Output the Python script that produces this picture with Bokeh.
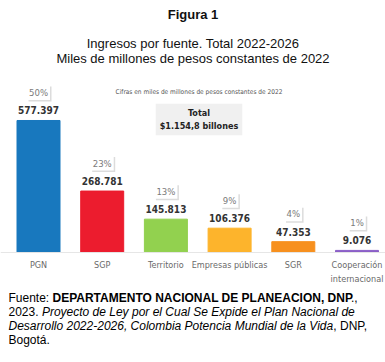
from bokeh.plotting import figure
from bokeh.models import ColumnDataSource, Range1d, Label, Span
from bokeh.core.properties import value
from bokeh.embed import file_html
from bokeh.resources import INLINE

# ---- data ----
categories = ["PGN", "SGP", "Territorio", "Empresas públicas", "SGR", "Cooperación\ninternacional"]
values = [577.397, 268.781, 145.813, 106.376, 47.353, 9.076]
value_labels = ["577.397", "268.781", "145.813", "106.376", "47.353", "9.076"]
shares = ["50%", "23%", "13%", "9%", "4%", "1%"]
colors = ["#1878BE", "#EC1C2E", "#92D14F", "#FDB42C", "#F7901E", "#8A5FC7"]
total_label = "Total\n$1.154,8 billones"
units_note = "Cifras en miles de millones de pesos constantes de 2022"

W, H = 385, 362
NARROW = "'DejaVu Sans Condensed', Roboto, sans-serif"
ARIAL = "Liberation Sans"

xs = list(range(len(categories)))
src = ColumnDataSource(dict(x=xs, top=values, cat=categories, val=value_labels,
                            pct=shares, color=colors))

p = figure(width=W, height=H, output_backend="svg", toolbar_location=None,
           x_range=Range1d(-0.5966, 5.4474), y_range=Range1d(-481.2, 1102.3),
           min_border=0, outline_line_color=None)
p.axis.visible = False
p.grid.visible = False
p.background_fill_color = "white"
p.border_fill_color = "white"

p.add_layout(Span(location=0, dimension="width", line_color="#e6e6e6", line_width=1))

p.vbar(x="x", top="top", bottom=0, width=0.675, color="color", source=src)

# value labels
p.text(x="x", y="top", text="val", source=src, text_align="center", text_baseline="middle",
       y_offset=-10, text_font=value(NARROW), text_font_style="bold",
       text_font_size="10px", text_color="#333333")

# share labels with a light drop shadow box
p.text(x="x", y="top", text="pct", source=src, text_align="center", text_baseline="middle",
       x_offset=1.5, y_offset=-26.5, text_font=value(NARROW), text_font_size="9.5px",
       text_alpha=0, background_fill_color="#dcdcdc", padding=2)
p.text(x="x", y="top", text="pct", source=src, text_align="center", text_baseline="middle",
       y_offset=-28, text_font=value(NARROW), text_font_size="9.5px",
       text_color="#7a7a7a", background_fill_color="white", padding=2)

# category labels
p.text(x="x", y=0, text="cat", source=src, text_align="center", text_baseline="top",
       y_offset=8, text_font=value(NARROW), text_font_size="9px",
       text_color="#6a6a6a", text_line_height=1.35)

def sy(wy):
    return H - wy

def lab(text, x, y, size, style="normal", color="black", align="center", font=ARIAL, **kw):
    p.add_layout(Label(x=x, y=y, x_units="screen", y_units="screen", text=text,
                       text_font=font, text_font_size=size, text_font_style=style,
                       text_color=color, text_align=align, text_baseline="middle", **kw))

lab("Figura 1", 192.5, sy(14), "13px", "bold", "#111111")
lab("Ingresos por fuente. Total 2022-2026", 192.5, sy(43), "13px", color="#111111")
lab("Miles de millones de pesos constantes de 2022", 192.5, sy(58), "13px", color="#111111")
lab(units_note, 198.5, sy(91), "6.5px", color="#555555", font=NARROW)
lab(total_label, 198.5, sy(119), "9px", "bold", "#222222", font=NARROW,
    background_fill_color="#f0f0f0", padding=4, text_line_height=1.35)

# footer
lab("Fuente: ", 8, sy(297), "12px", align="left")
lab("DEPARTAMENTO NACIONAL DE PLANEACION, DNP", 52.0, sy(297), "12px", "bold", align="left")
lab("., ", 350.5, sy(297), "12px", align="left")
lab("2023. ", 8, sy(311), "12px", align="left")
lab("Proyecto de Ley por el Cual Se Expide el Plan Nacional de", 41.4, sy(311), "12px", "italic", align="left")
lab("Desarrollo 2022-2026, Colombia Potencia Mundial de la Vida", 8, sy(325), "12px", "italic", align="left")
lab(", DNP,", 332.8, sy(325), "12px", align="left")
lab("Bogotá.", 8, sy(339), "12px", align="left")

open("out.html", "w").write(file_html(p, INLINE))
